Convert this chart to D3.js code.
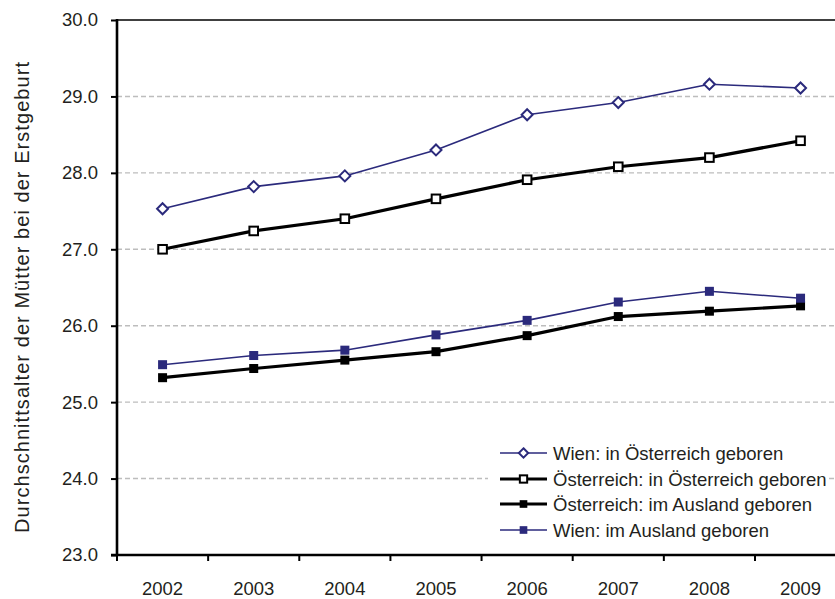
<!DOCTYPE html>
<html><head><meta charset="utf-8">
<script src="https://cdn.jsdelivr.net/npm/d3@7"></script>
<style>body{margin:0;background:#fff}svg{display:block}text{font-family:"Liberation Sans",Arial,sans-serif;fill:#231f20}</style>
</head><body>
<svg id="c" width="835" height="599"></svg>
<script>
const years = ["2002","2003","2004","2005","2006","2007","2008","2009"];
const wienOesterreich = [27.53, 27.82, 27.96, 28.30, 28.76, 28.92, 29.16, 29.11];
const oesterreichOesterreich = [27.00, 27.24, 27.40, 27.66, 27.91, 28.08, 28.20, 28.42];
const oesterreichAusland = [25.32, 25.44, 25.55, 25.66, 25.87, 26.12, 26.19, 26.26];
const wienAusland = [25.49, 25.61, 25.68, 25.88, 26.07, 26.31, 26.45, 26.36];
const yTicks = [23,24,25,26,27,28,29,30];
const seriesNames = ["Wien: in Österreich geboren","Österreich: in Österreich geboren","Österreich: im Ausland geboren","Wien: im Ausland geboren"];
const yTitle = "Durchschnittsalter der Mütter bei der Erstgeburt";

const blue = "#2b2a7c", black = "#000";
const series = [
  {name: seriesNames[0], values: wienOesterreich, color: blue, width: 1.6, marker: "diamond", fill: "#fff"},
  {name: seriesNames[1], values: oesterreichOesterreich, color: black, width: 3.2, marker: "square", fill: "#fff"},
  {name: seriesNames[2], values: oesterreichAusland, color: black, width: 3.2, marker: "square", fill: black},
  {name: seriesNames[3], values: wienAusland, color: blue, width: 1.6, marker: "square", fill: blue}
];

const svg = d3.select("#c");
const mLeft = 117, mTop = 20, mBottom = 555, band = 91.14;
const x = d3.scaleBand().domain(years).range([mLeft, mLeft + band*years.length]).paddingInner(0).paddingOuter(0);
const y = d3.scaleLinear().domain([23,30]).range([mBottom, mTop]);

// grid
svg.append("g").selectAll("line").data(yTicks.filter(t => t>23 && t<30)).join("line")
  .attr("x1", mLeft).attr("x2", 835).attr("y1", d=>y(d)).attr("y2", d=>y(d))
  .attr("stroke","#bdbdbd").attr("stroke-width",1.4).attr("stroke-dasharray","5,3");
// top border
svg.append("line").attr("x1",mLeft).attr("x2",835).attr("y1",y(30)).attr("y2",y(30)).attr("stroke","#000").attr("stroke-width",1.3);

// y axis
const yAxis = svg.append("g").attr("transform",`translate(${mLeft},0)`)
  .call(d3.axisLeft(y).tickValues(yTicks).tickFormat(d3.format(".1f")).tickSize(6).tickPadding(13));
yAxis.select(".domain").remove();
yAxis.selectAll(".tick line").attr("stroke","#000").attr("stroke-width",2);
yAxis.selectAll("text").style("font-size","18.5px").attr("fill","#231f20");
svg.append("line").attr("x1",mLeft).attr("x2",mLeft).attr("y1",mTop-1).attr("y2",mBottom+1).attr("stroke","#000").attr("stroke-width",2.6);

// x axis
const xAxis = svg.append("g").attr("transform",`translate(0,${mBottom})`)
  .call(d3.axisBottom(x).tickSize(0).tickPadding(27));
xAxis.select(".domain").remove();
xAxis.selectAll("text").style("font-size","18.5px").attr("fill","#231f20");
const bounds = years.map(d => x(d)).concat([x(years[years.length-1]) + x.bandwidth()]);
svg.append("g").selectAll("line").data(bounds.filter(b => b < 835)).join("line")
  .attr("x1",d=>d).attr("x2",d=>d).attr("y1",mBottom).attr("y2",mBottom+6).attr("stroke","#000").attr("stroke-width",2);
svg.append("line").attr("x1",mLeft-6).attr("x2",835).attr("y1",mBottom).attr("y2",mBottom).attr("stroke","#000").attr("stroke-width",2.4);

// y title
svg.append("text").attr("transform",`translate(29,${(62+533)/2}) rotate(-90)`)
  .attr("text-anchor","middle").style("font-size","20px")
  .attr("textLength",471).attr("lengthAdjust","spacing").text(yTitle);

function drawMarker(g, s, cx, cy, scale){
  const k = scale || 1;
  if (s.marker === "diamond") {
    const r = 5.5*k;
    g.append("path").attr("d",`M${cx},${cy-r}L${cx+r},${cy}L${cx},${cy+r}L${cx-r},${cy}Z`)
      .attr("fill",s.fill).attr("stroke",s.color).attr("stroke-width",2);
  } else {
    const h = (s.fill === "#fff" ? 4.3 : 4.5)*k;
    g.append("rect").attr("x",cx-h).attr("y",cy-h).attr("width",2*h).attr("height",2*h)
      .attr("fill",s.fill).attr("stroke",s.color).attr("stroke-width", s.fill === "#fff" ? 2 : 0);
  }
}

const line = d3.line().x((d,i)=>x(years[i]) + x.bandwidth()/2).y(d=>y(d));
series.forEach(s => {
  const g = svg.append("g");
  g.append("path").datum(s.values).attr("d",line).attr("fill","none")
    .attr("stroke",s.color).attr("stroke-width",s.width).attr("stroke-linejoin","round");
  s.values.forEach((v,i) => drawMarker(g, s, x(years[i]) + x.bandwidth()/2, y(v)));
});

// legend
const lg = svg.append("g");
lg.append("rect").attr("x",488).attr("y",438).attr("width",338).attr("height",106).attr("fill","#fff");
const rows = [453, 479, 504, 530];
series.forEach((s,i) => {
  const ry = rows[i];
  lg.append("line").attr("x1",500).attr("x2",547).attr("y1",ry).attr("y2",ry)
    .attr("stroke",s.color).attr("stroke-width",s.width);
  drawMarker(lg, s, 523.5, ry, 0.85);
  lg.append("text").attr("x",553).attr("y",ry+6.5).style("font-size","18.5px").text(s.name);
});
</script>
</body></html>
